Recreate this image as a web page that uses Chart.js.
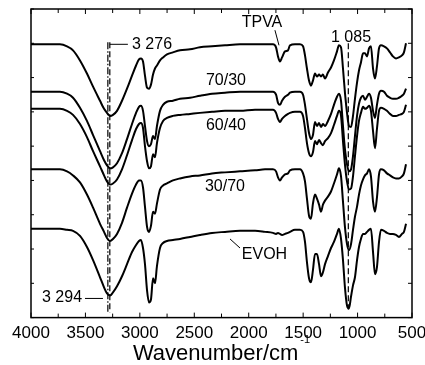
<!DOCTYPE html>
<html>
<head>
<meta charset="utf-8">
<script src="https://cdn.jsdelivr.net/npm/chart.js@4.4.0/dist/chart.umd.min.js"></script>
<style>
  html, body { margin: 0; padding: 0; background: #fff; }
  #wrap { width: 425px; height: 365px; }
</style>
</head>
<body>
<div id="wrap"><canvas id="ftir_chart"></canvas></div>
<script>
// FTIR spectra, wavenumber (cm-1) and transmittance (a.u., curves offset)
const wavenumbers = [
  4000, 3825, 3734, 3669, 3614, 3550, 3486, 3430, 3366, 3329,
  3302, 3274, 3247, 3210, 3164, 3118, 3072, 3035, 3008, 2990,
  2971, 2953, 2934, 2916, 2898, 2879, 2861, 2843, 2815, 2787,
  2751, 2696, 2631, 2539, 2448, 2337, 2218, 2080, 1942, 1850,
  1777, 1749, 1731, 1713, 1694, 1667, 1639, 1621, 1575, 1529,
  1501, 1483, 1465, 1446, 1428, 1410, 1391, 1373, 1354, 1336,
  1318, 1299, 1272, 1244, 1217, 1189, 1171, 1152, 1134, 1116,
  1097, 1079, 1060, 1042, 1024, 1005, 987, 969, 950, 932,
  913, 895, 877, 858, 840, 822, 803, 785, 757, 730,
  702, 675, 647, 620, 592, 574, 555
];

const tpva = [
  271, 271, 271, 269, 265, 255, 242, 229, 215, 207,
  203, 200, 201, 205, 215, 227, 240, 250, 256, 257,
  254, 240, 228, 227, 231, 241, 247, 250, 255, 258,
  261, 263, 265, 266, 268, 269, 270, 271, 271, 271,
  271, 268, 259, 254, 258, 264, 265, 270, 271, 271,
  269, 260, 247, 235, 230, 235, 242, 239, 241, 239,
  241, 237, 243, 248, 255, 264, 270, 268, 247, 223,
  203, 190, 189, 200, 217, 233, 245, 253, 262, 262,
  259, 267, 269, 247, 237, 249, 267, 270, 269, 267,
  263, 259, 257, 258, 260, 263, 272
];

const blend7030 = [
  224, 224, 224, 222, 218, 208, 195, 181, 165, 156,
  151, 148, 149, 153, 163, 177, 192, 203, 209, 210,
  205, 190, 175, 170, 172, 180, 177, 190, 205, 211,
  214, 215, 217, 218, 220, 222, 223, 224, 224, 224,
  224, 221, 213, 211, 215, 219, 221, 223, 224, 224,
  221, 211, 197, 183, 177, 181, 194, 190, 193, 189,
  192, 190, 195, 202, 211, 219, 222, 215, 190, 167,
  152, 145, 147, 160, 180, 200, 212, 218, 220, 216,
  219, 222, 218, 205, 198, 211, 222, 225, 224, 220,
  218, 217, 217, 218, 220, 222, 227
];

const blend6040 = [
  207, 207, 207, 205, 201, 192, 179, 165, 150, 141,
  135, 132, 133, 137, 147, 161, 176, 187, 192, 193,
  188, 170, 155, 148, 150, 162, 159, 173, 188, 195,
  198, 200, 201, 202, 203, 204, 205, 205, 206, 206,
  206, 203, 197, 194, 197, 200, 202, 203, 204, 204,
  200, 188, 173, 163, 160, 164, 175, 172, 176, 173,
  171, 175, 178, 183, 191, 200, 205, 200, 175, 152,
  135, 127, 128, 140, 160, 180, 195, 203, 209, 207,
  208, 210, 205, 185, 168, 187, 205, 208, 207, 205,
  202, 200, 200, 201, 202, 204, 211
];

const blend3070 = [
  147, 147, 147, 145, 141, 134, 122, 109, 93, 85,
  79, 76, 78, 83, 94, 109, 123, 132, 136, 136,
  129, 110, 90, 85, 91, 105, 103, 113, 127, 131,
  133, 136, 138, 140, 141, 143, 144, 145, 146, 147,
  147, 145, 139, 136, 139, 142, 143, 146, 147, 147,
  143, 135, 118, 101, 98, 113, 122, 118, 112, 105,
  112, 116, 120, 125, 133, 142, 148, 140, 115, 90,
  73, 67, 73, 87, 100, 110, 122, 131, 137, 141,
  143, 147, 140, 115, 105, 119, 142, 147, 146, 143,
  141, 139, 138, 138, 140, 143, 152
];

const evoh = [
  88, 88, 88, 87, 86, 81, 70, 57, 40, 30,
  24, 22, 25, 31, 41, 53, 65, 72, 76, 77,
  69, 53, 27, 15, 18, 39, 34, 51, 69, 74,
  76, 77, 78, 80, 82, 84, 85, 86, 86, 85,
  84, 83, 84, 83, 82, 83, 84, 85, 87, 87,
  85, 75, 55, 39, 35, 47, 63, 63, 53, 41,
  45, 53, 61, 69, 75, 83, 88, 78, 57, 30,
  12, 9, 21, 32, 40, 57, 70, 78, 83, 83,
  85, 87, 88, 65, 43, 50, 75, 87, 86, 84,
  83, 83, 82, 80, 83, 85, 93
];

const seriesNames = ['TPVA', '70/30', '60/40', '30/70', 'EVOH'];
const tickLabels = [4000, 3500, 3000, 2500, 2000, 1500, 1000, 500];

// curve labels, peak marks and leader lines (wavenumber, transmittance)
const notes = [
  { text: 'TPVA', wn: 1878, t: 293, align: 'center' },
  { text: '70/30', wn: 2209, t: 235, align: 'center' },
  { text: '60/40', wn: 2209, t: 190, align: 'center' },
  { text: '30/70', wn: 2218, t: 130, align: 'center' },
  { text: 'EVOH', wn: 1855, t: 62, align: 'center' },
  { text: '3 276', wn: 3072, t: 271, align: 'left' },
  { text: '3 294', wn: 3531, t: 20, align: 'right' },
  { text: '1 085', wn: 1060, t: 278, align: 'center' }
];
const markLines = [
  { wn: 3276, from: 273, to: 5, dash: [6, 3] },
  { wn: 3294, from: 273, to: 5, dash: [7, 2, 1.5, 2] },
  { wn: 1085, from: 272, to: 8, dash: [6, 3] }
];
const leaders = [
  [3276, 271, 3110, 271],
  [3504, 19, 3339, 19],
  [1759, 285, 1722, 270],
  [2172, 78, 2080, 69]
];

const FONT = 'Arial, "Liberation Sans", sans-serif';

const frameAndNotes = {
  id: 'frameAndNotes',
  afterDatasetsDraw(chart) {
    const ctx = chart.ctx;
    const a = chart.chartArea;
    const x = chart.scales.x;
    const y = chart.scales.y;

    const seg = (x1, y1, x2, y2) => {
      ctx.beginPath();
      ctx.moveTo(x1, y1);
      ctx.lineTo(x2, y2);
      ctx.stroke();
    };

    ctx.save();
    ctx.strokeStyle = '#000';
    ctx.lineWidth = 1.5;
    ctx.strokeRect(a.left, a.top, a.right - a.left, a.bottom - a.top);

    // inward ticks
    ctx.lineWidth = 1;
    x.ticks.forEach(t => {
      const px = x.getPixelForValue(t.value);
      const len = t.value % 500 === 0 ? 5 : 4;
      seg(px, a.bottom, px, a.bottom - len);
      seg(px, a.top, px, a.top + len);
    });
    y.ticks.forEach(t => {
      const py = y.getPixelForValue(t.value);
      seg(a.left, py, a.left + 3, py);
      seg(a.right, py, a.right - 4, py);
    });

    // peak marks
    ctx.lineWidth = 1.2;
    markLines.forEach(m => {
      ctx.setLineDash(m.dash);
      const px = x.getPixelForValue(m.wn);
      seg(px, y.getPixelForValue(m.from), px, y.getPixelForValue(m.to));
    });
    ctx.setLineDash([]);
    ctx.lineWidth = 1;
    leaders.forEach(l => {
      seg(x.getPixelForValue(l[0]), y.getPixelForValue(l[1]),
          x.getPixelForValue(l[2]), y.getPixelForValue(l[3]));
    });

    ctx.fillStyle = '#000';
    ctx.font = '16px ' + FONT;
    ctx.textBaseline = 'middle';
    notes.forEach(n => {
      ctx.textAlign = n.align;
      ctx.fillText(n.text, x.getPixelForValue(n.wn), y.getPixelForValue(n.t));
    });

    // axis title with superscript
    const main = 'Wavenumber/cm';
    const sup = '-1';
    ctx.textAlign = 'left';
    ctx.textBaseline = 'alphabetic';
    ctx.font = '22px ' + FONT;
    const w1 = ctx.measureText(main).width;
    ctx.font = '11px ' + FONT;
    const w2 = ctx.measureText(sup).width;
    const start = (a.left + a.right) / 2 - (w1 + w2 + 2) / 2;
    ctx.font = '22px ' + FONT;
    ctx.fillText(main, start, 360);
    ctx.font = '11px ' + FONT;
    ctx.fillText(sup, start + w1 + 2, 343);
    ctx.restore();
  }
};

const series = [tpva, blend7030, blend6040, blend3070, evoh];

const datasets = series.map((vals, i) => ({
  label: seriesNames[i],
  data: wavenumbers.map((wn, j) => ({ x: wn, y: vals[j] })),
  borderColor: '#000',
  borderWidth: 2,
  pointRadius: 0,
  fill: false,
  cubicInterpolationMode: 'monotone'
}));

new Chart(document.getElementById('ftir_chart'), {
  type: 'line',
  data: { datasets: datasets },
  options: {
    responsive: true,
    maintainAspectRatio: false,
    animation: false,
    layout: { padding: { left: 31, right: 13, top: 9, bottom: 15 } },
    plugins: {
      legend: { display: false },
      tooltip: { enabled: false }
    },
    scales: {
      x: {
        type: 'linear',
        reverse: true,
        min: 500,
        max: 4000,
        grid: { display: false, drawTicks: false },
        border: { display: false },
        ticks: {
          stepSize: 250,
          padding: 6,
          color: '#000',
          autoSkip: false,
          maxRotation: 0,
          font: { size: 17, family: FONT },
          callback: v => tickLabels.includes(v) ? String(v) : ''
        },
        afterFit: s => { s.paddingLeft = 0; s.paddingRight = 0; }
      },
      y: {
        display: false,
        min: 0,
        max: 306,
        ticks: { stepSize: 17 }
      }
    }
  },
  plugins: [frameAndNotes]
});
</script>
</body>
</html>
